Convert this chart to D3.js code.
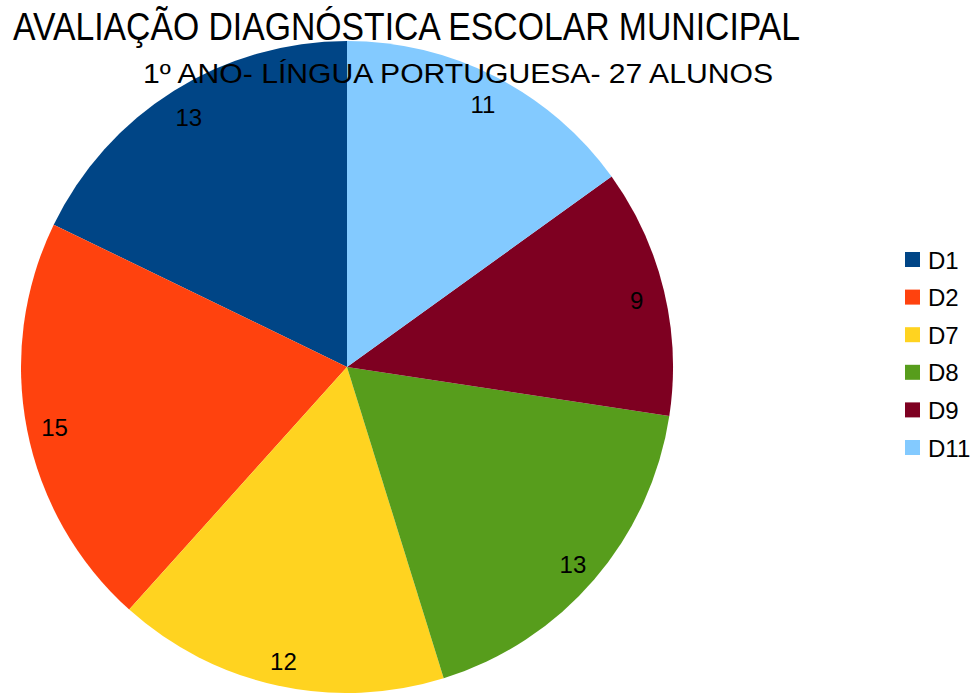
<!DOCTYPE html>
<html>
<head>
<meta charset="utf-8">
<script src="https://cdn.jsdelivr.net/npm/d3@7"></script>
<style>
  body { margin: 0; background: #fff; }
  text { font-family: "Liberation Sans", Arial, sans-serif; }
</style>
</head>
<body>
<div id="chart"></div>
<script>
// data
var categories = ["D1", "D2", "D7", "D8", "D9", "D11"];
var values = [13, 15, 12, 13, 9, 11];
var colors = ["#004586", "#ff420e", "#ffd320", "#579d1c", "#7e0021", "#83caff"];

var title = "AVALIAÇÃO DIAGNÓSTICA ESCOLAR MUNICIPAL";
var subtitle = "1º ANO- LÍNGUA PORTUGUESA- 27 ALUNOS";

var width = 978, height = 693;
var cx = 347, cy = 367, radius = 326;

var svg = d3.select("#chart").append("svg")
  .attr("width", width)
  .attr("height", height);

var data = categories.map(function(c, i) { return { name: c, value: values[i] }; });

var color = d3.scaleOrdinal().domain(categories).range(colors);

// slices run counter-clockwise from 12 o'clock
var pie = d3.pie()
  .sort(null)
  .value(function(d) { return d.value; })
  .startAngle(0)
  .endAngle(-2 * Math.PI);

var arc = d3.arc().innerRadius(0).outerRadius(radius);
var labelArc = d3.arc().innerRadius(radius * 0.914).outerRadius(radius * 0.914);

var g = svg.append("g").attr("transform", "translate(" + cx + "," + cy + ")");

var arcs = pie(data);

g.selectAll("path")
  .data(arcs)
  .enter()
  .append("path")
    .attr("d", arc)
    .attr("fill", function(d) { return color(d.data.name); });

g.selectAll("text.lbl")
  .data(arcs)
  .enter()
  .append("text")
    .attr("class", "lbl")
    .attr("transform", function(d) {
      var c = labelArc.centroid(d);
      return "translate(" + c[0] + "," + (c[1] + 3) + ")";
    })
    .attr("text-anchor", "middle")
    .attr("dominant-baseline", "central")
    .style("font-size", "24px")
    .attr("fill", "#000")
    .text(function(d) { return d.data.value; });

// titles (condensed look)
svg.append("text")
  .attr("x", 13)
  .attr("y", 40)
  .attr("textLength", 787)
  .attr("lengthAdjust", "spacingAndGlyphs")
  .style("font-size", "38px")
  .text(title);

svg.append("text")
  .attr("x", 143)
  .attr("y", 83)
  .attr("textLength", 630)
  .attr("lengthAdjust", "spacingAndGlyphs")
  .style("font-size", "27px")
  .text(subtitle);

// legend
var legend = svg.append("g").attr("transform", "translate(905,252)");
var item = legend.selectAll("g")
  .data(categories)
  .enter()
  .append("g")
    .attr("transform", function(d, i) { return "translate(0," + (i * 37.6) + ")"; });

item.append("rect")
  .attr("width", 15)
  .attr("height", 15)
  .attr("fill", function(d) { return color(d); });

item.append("text")
  .attr("x", 23)
  .attr("y", 8)
  .attr("dominant-baseline", "central")
  .style("font-size", "24px")
  .text(function(d) { return d; });
</script>
</body>
</html>
